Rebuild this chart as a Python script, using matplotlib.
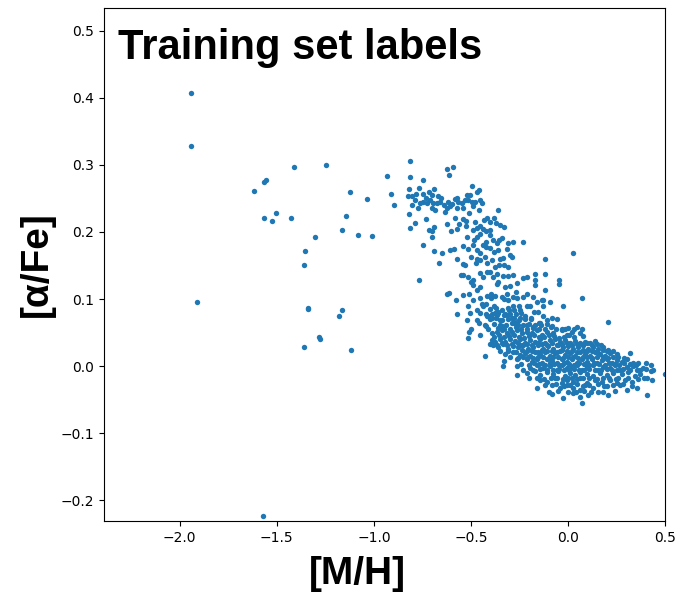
import matplotlib
matplotlib.use("Agg")
import matplotlib.pyplot as plt

# isolated metal-poor stars
mh_sparse = [-1.943, -1.943, -1.909, -1.412, -1.247, -1.617, -1.567, -1.558, -1.567, -1.526,
             -1.502, -1.428, -1.125, -1.036, -1.141, -1.165, -1.084, -1.010, -1.304, -1.354,
             -1.362, -1.339, -1.337, -1.165, -1.182, -1.282, -1.280, -1.362, -1.117, -1.572,
             -0.931, -0.912, -0.897, -0.749, -0.689, -0.651, -0.667, -0.766, -0.625]
afe_sparse = [0.407, 0.328, 0.096, 0.296, 0.300, 0.261, 0.275, 0.277, 0.221, 0.217,
              0.228, 0.221, 0.259, 0.249, 0.224, 0.203, 0.196, 0.194, 0.192, 0.171,
              0.150, 0.087, 0.085, 0.083, 0.075, 0.043, 0.041, 0.029, 0.024, -0.224,
              0.284, 0.257, 0.240, 0.180, 0.171, 0.168, 0.154, 0.129, 0.108]

# high-alpha branch
mh_upper = [-0.814, -0.814, -0.749, -0.625, -0.594, -0.612, -0.821, -0.823, -0.802, -0.766,
            -0.783, -0.749, -0.718, -0.691, -0.668, -0.746, -0.728, -0.711, -0.694, -0.677,
            -0.660, -0.806, -0.771, -0.703, -0.686, -0.617, -0.625, -0.582, -0.565, -0.548,
            -0.531, -0.514, -0.497, -0.479, -0.454, -0.445, -0.497, -0.471, -0.457, -0.505,
            -0.359, -0.574, -0.634, -0.608, -0.539,
            -0.821, -0.790, -0.814, -0.732, -0.715, -0.699, -0.691, -0.699, -0.625, -0.601,
            -0.570, -0.560, -0.543, -0.526, -0.526, -0.522, -0.491, -0.471, -0.454, -0.433,
            -0.419, -0.402, -0.381, -0.371, -0.350, -0.330, -0.454, -0.467, -0.485, -0.423,
            -0.402, -0.385, -0.368, -0.354, -0.342, -0.311, -0.282, -0.234, -0.608, -0.588,
            -0.543, -0.514, -0.488, -0.471, -0.454, -0.423, -0.402, -0.359, -0.313, -0.299]
afe_upper = [0.305, 0.282, 0.277, 0.294, 0.297, 0.285, 0.264, 0.254, 0.253, 0.266,
             0.257, 0.256, 0.259, 0.264, 0.254, 0.245, 0.243, 0.248, 0.243, 0.243,
             0.245, 0.240, 0.235, 0.235, 0.233, 0.245, 0.235, 0.249, 0.245, 0.243,
             0.247, 0.248, 0.245, 0.244, 0.248, 0.243, 0.268, 0.260, 0.263, 0.255,
             0.233, 0.235, 0.230, 0.238, 0.235,
             0.226, 0.214, 0.206, 0.219, 0.203, 0.202, 0.208, 0.192, 0.212, 0.201,
             0.204, 0.212, 0.219, 0.216, 0.209, 0.192, 0.203, 0.206, 0.209, 0.218,
             0.220, 0.215, 0.220, 0.213, 0.210, 0.208, 0.197, 0.192, 0.188, 0.201,
             0.203, 0.188, 0.183, 0.188, 0.191, 0.183, 0.185, 0.185, 0.173, 0.175,
             0.179, 0.174, 0.181, 0.173, 0.168, 0.178, 0.176, 0.173, 0.174, 0.166]

# transition zone
mh_mid = [-0.574, -0.543, -0.531, -0.502, -0.474, -0.454, -0.428, -0.416, -0.393, -0.376,
          -0.354, -0.333, -0.309, -0.290, -0.120, 0.027, -0.553, -0.539, -0.514, -0.502,
          -0.488, -0.454, -0.436, -0.416, -0.388, -0.364, -0.333, -0.308, -0.282, -0.230,
          -0.213, -0.170, -0.170, -0.170, -0.117, -0.045, -0.045, -0.364, -0.261, -0.325,
          -0.454, -0.488,
          -0.612, -0.577, -0.543, -0.509, -0.491, -0.454, -0.445, -0.471, -0.419, -0.397,
          -0.397, -0.376, -0.342, -0.316, -0.308, -0.282, -0.261, -0.230, -0.213, -0.179,
          -0.158, -0.136, -0.093, -0.028, 0.070, -0.514, -0.505, -0.471, -0.454, -0.436,
          -0.423, -0.376, -0.359, -0.325, -0.302, -0.282, -0.247, -0.213, -0.196, -0.175,
          -0.153, -0.127, -0.574, -0.519, -0.471, -0.419, -0.393, -0.368, -0.350, -0.316,
          -0.290, -0.265, -0.247, -0.213, -0.179, -0.144, -0.110, -0.084, -0.058, -0.016,
          0.045, 0.070, 0.208, -0.119, -0.130]
afe_mid = [0.159, 0.152, 0.151, 0.162, 0.153, 0.158, 0.162, 0.154, 0.158, 0.148,
           0.151, 0.161, 0.147, 0.163, 0.159, 0.168, 0.136, 0.136, 0.133, 0.126,
           0.129, 0.139, 0.133, 0.141, 0.133, 0.138, 0.134, 0.134, 0.136, 0.131,
           0.133, 0.138, 0.128, 0.121, 0.138, 0.128, 0.123, 0.123, 0.124, 0.118,
           0.118, 0.121,
           0.109, 0.099, 0.106, 0.108, 0.099, 0.101, 0.093, 0.113, 0.104, 0.108,
           0.101, 0.104, 0.103, 0.108, 0.099, 0.103, 0.101, 0.103, 0.108, 0.103,
           0.095, 0.098, 0.095, 0.090, 0.101, 0.090, 0.079, 0.084, 0.079, 0.089,
           0.093, 0.079, 0.081, 0.078, 0.083, 0.089, 0.084, 0.089, 0.089, 0.081,
           0.081, 0.089, 0.078, 0.069, 0.069, 0.074, 0.071, 0.076, 0.069, 0.076,
           0.071, 0.066, 0.071, 0.061, 0.059, 0.065, 0.069, 0.071, 0.070, 0.055,
           0.059, 0.056, 0.066, 0.114, 0.099]

# dense low-alpha clump
mh_core = [-0.509, -0.454, -0.393, -0.368, -0.342, -0.316, -0.290, -0.265, -0.239, -0.213,
           -0.187, -0.162, -0.136, -0.110, -0.076, -0.033, -0.007, 0.019, 0.062, -0.514,
           -0.393, -0.376, -0.350, -0.325, -0.299, -0.273, -0.247, -0.222, -0.196, -0.170,
           -0.144, -0.119, -0.093, -0.067, -0.041, -0.016, 0.010, 0.036, 0.062, 0.088,
           0.113, 0.139,
           -0.385, -0.359, -0.333, -0.308, -0.282, -0.256, -0.230, -0.204, -0.179, -0.153,
           -0.127, -0.101, -0.076, -0.050, -0.024, 0.002, 0.027, 0.053, 0.079, 0.105,
           0.131, 0.156, 0.182, 0.208,
           -0.428, -0.325, -0.282, -0.247, -0.222, -0.196, -0.170, -0.144, -0.119, -0.093,
           -0.067, -0.041, -0.016, 0.010, 0.036, 0.062, 0.088, 0.113, 0.139, 0.165,
           0.191, 0.216, 0.251, 0.320,
           -0.330, -0.265, -0.213, -0.187, -0.162, -0.136, -0.110, -0.084, -0.058, -0.033,
           -0.007, 0.019, 0.045, 0.070, 0.096, 0.122, 0.148, 0.173, 0.199, 0.225,
           0.251, 0.277, 0.302, 0.337, 0.362, 0.426,
           -0.333, -0.265, -0.196, -0.162, -0.127, -0.093, -0.058, -0.033, -0.007, 0.019,
           0.045, 0.070, 0.096, 0.131, 0.156, 0.182, 0.216, 0.242, 0.268, 0.302,
           0.337, 0.371, 0.388, 0.426,
           -0.265, -0.213, -0.170, -0.144, -0.110, -0.076, -0.050, -0.016, 0.010, 0.036,
           0.062, 0.096, 0.131, 0.165, 0.199, 0.234, 0.277, 0.311, 0.345, 0.371,
           0.405, 0.431, 0.500,
           -0.144, -0.110, -0.067, -0.033, -0.007, 0.027, 0.062, 0.096, 0.139, 0.173,
           0.216, 0.251, 0.294, 0.328,
           -0.162, -0.084, -0.041, -0.007, 0.027, 0.062, 0.088, 0.131, 0.199, 0.268,
           0.354, 0.302,
           -0.084, -0.024, 0.027, 0.062, 0.070, 0.105, 0.156, 0.208, 0.405]
afe_core = [0.051, 0.046, 0.049, 0.051, 0.054, 0.050, 0.051, 0.054, 0.049, 0.051,
            0.050, 0.054, 0.046, 0.051, 0.049, 0.054, 0.046, 0.051, 0.049, 0.042,
            0.039, 0.036, 0.041, 0.036, 0.040, 0.038, 0.041, 0.035, 0.039, 0.036,
            0.041, 0.035, 0.039, 0.041, 0.036, 0.039, 0.034, 0.038, 0.034, 0.036,
            0.035, 0.038,
            0.031, 0.029, 0.033, 0.026, 0.030, 0.028, 0.031, 0.025, 0.029, 0.031,
            0.026, 0.030, 0.025, 0.031, 0.028, 0.030, 0.025, 0.029, 0.031, 0.026,
            0.029, 0.025, 0.028, 0.024,
            0.015, 0.018, 0.021, 0.016, 0.020, 0.015, 0.021, 0.018, 0.021, 0.015,
            0.019, 0.023, 0.016, 0.020, 0.015, 0.021, 0.018, 0.015, 0.021, 0.018,
            0.015, 0.020, 0.018, 0.020,
            0.008, 0.010, 0.011, 0.006, 0.010, 0.005, 0.011, 0.008, 0.004, 0.010,
            0.006, 0.011, 0.005, 0.010, 0.006, 0.011, 0.005, 0.009, 0.011, 0.005,
            0.009, 0.006, 0.010, 0.005, 0.004, 0.001,
            -0.000, -0.000, -0.003, 0.001, -0.003, -0.000, -0.005, 0.001, -0.003, -0.001,
            0.001, -0.005, -0.001, 0.001, -0.005, -0.001, -0.003, 0.001, -0.006, -0.002,
            -0.000, -0.006, -0.003, -0.007,
            -0.013, -0.010, -0.007, -0.013, -0.008, -0.012, -0.007, -0.015, -0.010, -0.013,
            -0.008, -0.012, -0.015, -0.010, -0.013, -0.010, -0.012, -0.008, -0.015, -0.011,
            -0.017, -0.020, -0.012,
            -0.021, -0.023, -0.018, -0.025, -0.020, -0.023, -0.018, -0.025, -0.021, -0.023,
            -0.020, -0.025, -0.021, -0.023,
            -0.032, -0.028, -0.033, -0.028, -0.032, -0.035, -0.028, -0.032, -0.030, -0.028,
            -0.033, -0.036,
            -0.041, -0.048, -0.040, -0.046, -0.055, -0.043, -0.038, -0.043, -0.043]

# extra stars filling the crowded clump, read as ([M/H], [a/Fe]) pairs
core_fill = [
    (-0.380, 0.044), (-0.355, 0.046), (-0.330, 0.043), (-0.303, 0.045), (-0.278, 0.047),
    (-0.252, 0.044), (-0.226, 0.042), (-0.200, 0.045), (-0.175, 0.046), (-0.149, 0.043),
    (-0.123, 0.044), (-0.098, 0.047), (-0.071, 0.045), (-0.047, 0.042), (-0.020, 0.044),
    (0.006, 0.046), (0.032, 0.043), (0.075, 0.045),
    (-0.400, 0.033), (-0.364, 0.032), (-0.338, 0.034), (-0.312, 0.031), (-0.287, 0.033),
    (-0.260, 0.035), (-0.235, 0.032), (-0.209, 0.033), (-0.183, 0.031), (-0.157, 0.034),
    (-0.132, 0.033), (-0.106, 0.032), (-0.080, 0.034), (-0.054, 0.031), (-0.029, 0.033),
    (-0.003, 0.035), (0.023, 0.032), (0.049, 0.033), (0.075, 0.031), (0.100, 0.034),
    (0.126, 0.032), (0.152, 0.033), (0.170, 0.031),
    (-0.350, 0.022), (-0.310, 0.023), (-0.270, 0.021), (-0.235, 0.024), (-0.209, 0.022),
    (-0.183, 0.023), (-0.157, 0.021), (-0.132, 0.024), (-0.106, 0.022), (-0.080, 0.023),
    (-0.054, 0.021), (-0.029, 0.024), (-0.003, 0.022), (0.023, 0.023), (0.049, 0.021),
    (0.075, 0.024), (0.100, 0.022), (0.126, 0.023), (0.152, 0.021), (0.178, 0.024),
    (0.200, 0.022), (0.230, 0.023),
    (-0.300, 0.013), (-0.260, 0.012), (-0.230, 0.014), (-0.205, 0.013), (-0.180, 0.012),
    (-0.155, 0.014), (-0.130, 0.013), (-0.100, 0.012), (-0.075, 0.014), (-0.050, 0.013),
    (-0.025, 0.012), (0.000, 0.014), (0.025, 0.013), (0.050, 0.012), (0.075, 0.014),
    (0.100, 0.013), (0.125, 0.012), (0.150, 0.014), (0.178, 0.013), (0.204, 0.012),
    (0.230, 0.014), (0.260, 0.013), (0.290, 0.012),
    (-0.240, 0.003), (-0.200, 0.002), (-0.175, 0.004), (-0.150, 0.003), (-0.120, 0.002),
    (-0.095, 0.004), (-0.070, 0.003), (-0.045, 0.002), (-0.020, 0.004), (0.005, 0.003),
    (0.030, 0.002), (0.058, 0.004), (0.083, 0.003), (0.110, 0.002), (0.135, 0.004),
    (0.160, 0.003), (0.190, 0.002), (0.210, 0.004), (0.240, 0.003), (0.265, 0.002),
    (0.290, 0.004), (0.320, 0.003), (0.350, 0.002), (0.400, 0.004),
    (-0.230, -0.005), (-0.180, -0.006), (-0.145, -0.004), (-0.110, -0.005), (-0.075, -0.006),
    (-0.045, -0.004), (-0.020, -0.005), (0.005, -0.006), (0.030, -0.004), (0.055, -0.005),
    (0.080, -0.006), (0.110, -0.004), (0.140, -0.005), (0.170, -0.006), (0.200, -0.004),
    (0.225, -0.005), (0.255, -0.006), (0.285, -0.004), (0.320, -0.005), (0.355, -0.006),
    (0.400, -0.004), (0.440, -0.005),
    (-0.200, -0.018), (-0.160, -0.017), (-0.125, -0.019), (-0.090, -0.018), (-0.055, -0.017),
    (-0.025, -0.019), (0.000, -0.018), (0.020, -0.017), (0.045, -0.019), (0.075, -0.018),
    (0.110, -0.017), (0.150, -0.019), (0.180, -0.018), (0.210, -0.017), (0.245, -0.019),
    (0.260, -0.018), (0.310, -0.017), (0.360, -0.019), (0.390, -0.018),
    (-0.120, -0.028), (-0.060, -0.027), (-0.020, -0.029), (0.010, -0.028), (0.045, -0.027),
    (0.075, -0.029), (0.110, -0.028), (0.155, -0.027), (0.185, -0.029), (0.230, -0.028),
    (0.285, -0.027), (0.330, -0.029),
    (-0.100, -0.038), (-0.050, -0.037), (0.000, -0.039), (0.040, -0.038), (0.080, -0.037),
    (0.120, -0.039), (0.180, -0.038), (0.240, -0.037),
]

# upper edge of the clump, where it meets the transition zone
clump_top = [
    (-0.400, 0.085), (-0.370, 0.087), (-0.340, 0.084), (-0.310, 0.086), (-0.280, 0.083),
    (-0.420, 0.078), (-0.390, 0.077), (-0.360, 0.079), (-0.330, 0.076), (-0.300, 0.078),
    (-0.270, 0.077), (-0.240, 0.079),
    (-0.400, 0.070), (-0.370, 0.071), (-0.340, 0.069), (-0.310, 0.070), (-0.280, 0.072),
    (-0.250, 0.069), (-0.220, 0.070), (-0.190, 0.071),
    (-0.430, 0.062), (-0.380, 0.063), (-0.350, 0.061), (-0.320, 0.062), (-0.290, 0.064),
    (-0.260, 0.061), (-0.230, 0.062), (-0.200, 0.063), (-0.170, 0.061), (-0.140, 0.062),
    (-0.110, 0.063),
    (-0.410, 0.056), (-0.360, 0.057), (-0.330, 0.055), (-0.300, 0.056), (-0.270, 0.058),
    (-0.240, 0.055), (-0.210, 0.056), (-0.180, 0.057), (-0.150, 0.055), (-0.120, 0.056),
    (-0.090, 0.058), (-0.060, 0.055), (-0.030, 0.056), (0.000, 0.057), (0.030, 0.055),
]

# extra stars along the high-alpha branch and transition
branch_fill = [
    (-0.790, 0.248), (-0.760, 0.243), (-0.730, 0.250), (-0.700, 0.255), (-0.655, 0.250),
    (-0.640, 0.240), (-0.595, 0.242), (-0.570, 0.250), (-0.520, 0.255), (-0.490, 0.238),
    (-0.460, 0.232), (-0.580, 0.220), (-0.510, 0.228), (-0.480, 0.215), (-0.440, 0.205),
    (-0.400, 0.195), (-0.420, 0.185), (-0.380, 0.170), (-0.350, 0.160), (-0.330, 0.150),
    (-0.440, 0.180), (-0.470, 0.160), (-0.400, 0.140), (-0.360, 0.125), (-0.300, 0.120),
    (-0.270, 0.110), (-0.330, 0.100), (-0.250, 0.090), (-0.220, 0.075), (-0.380, 0.090),
    (-0.410, 0.075), (-0.340, 0.060), (-0.280, 0.065), (-0.190, 0.070), (-0.150, 0.065),
    (-0.420, 0.060), (-0.460, 0.065), (-0.500, 0.055), (-0.130, 0.075), (-0.080, 0.060),
]

extra = core_fill + clump_top + branch_fill
mh = mh_sparse + mh_upper + mh_mid + mh_core + [p[0] for p in extra]
afe = afe_sparse + afe_upper + afe_mid + afe_core + [p[1] for p in extra]

fig = plt.figure(figsize=(6.8, 5.97), dpi=100)
ax = fig.add_axes([0.153, 0.127, 0.825, 0.86])
ax.scatter(mh, afe, s=15, color='#1f77b4', linewidths=0)
ax.set_xlim(-2.39, 0.5)
ax.set_ylim(-0.231, 0.534)
ax.set_xticks([-2.0, -1.5, -1.0, -0.5, 0.0, 0.5])
ax.set_yticks([-0.2, -0.1, 0.0, 0.1, 0.2, 0.3, 0.4, 0.5])
ax.tick_params(labelsize=10)
ax.set_xlabel('[M/H]', fontsize=28, fontweight='bold', family='Liberation Sans')
ax.xaxis.set_label_coords(0.451, -0.068, transform=ax.transAxes)
ax.xaxis.label.set_va('top')
ax.set_ylabel('[α/Fe]', fontsize=28, fontweight='bold', family='Liberation Sans')
ax.text(0.025, 0.96, 'Training set labels', transform=ax.transAxes, va='top', ha='left',
        fontsize=30, fontweight='bold', family='Liberation Sans')

fig.savefig('out.png', dpi=100)
